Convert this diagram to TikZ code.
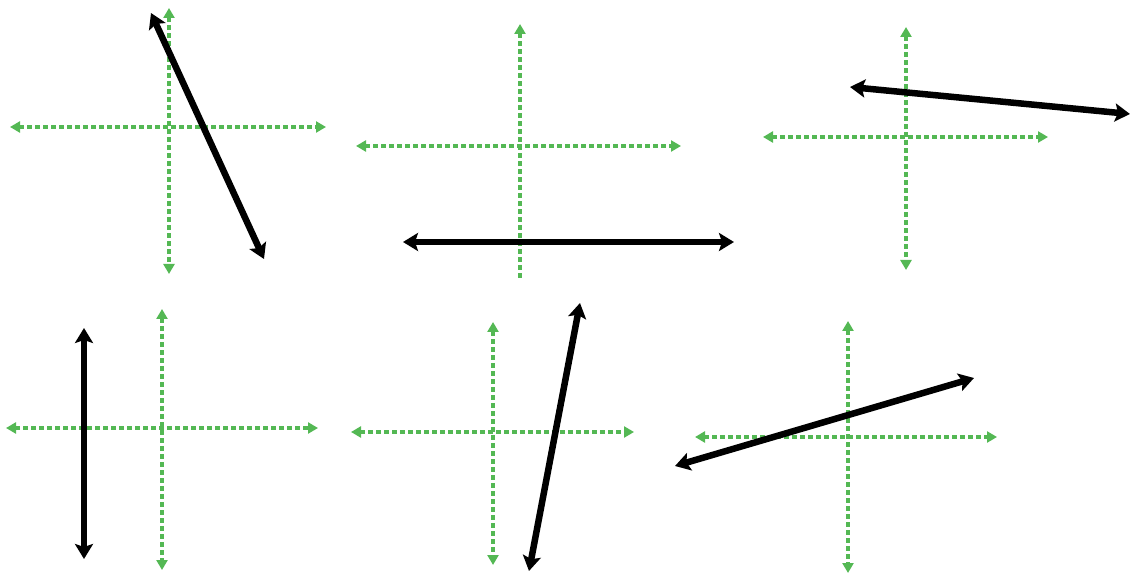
\documentclass[tikz,border=0pt]{standalone}
\usetikzlibrary{arrows.meta}
\definecolor{axisgreen}{RGB}{84,184,84}
\tikzset{
  axisline/.style={draw=axisgreen, line width=4pt, dash pattern=on 4.5pt off 3.5pt,
    {Triangle[length=10pt,width=11pt]}-{Triangle[length=10pt,width=11pt]}},
  axisnotip/.style={draw=axisgreen, line width=4pt, dash pattern=on 4.5pt off 3.5pt,
    {Triangle[length=10pt,width=11pt]}-},
  bline/.style={draw=black, line width=6.5pt,
    {Stealth[length=15pt,width=18pt,inset=3pt]}-{Stealth[length=15pt,width=18pt,inset=3pt]}}
}
\begin{document}
\begin{tikzpicture}[x=1pt,y=-1pt]
\useasboundingbox (0,0) rectangle (1130,577);
% panel 1
\coordinate (h1l) at (10,127); \coordinate (h1r) at (326,127);
\coordinate (v1t) at (169,8); \coordinate (v1b) at (169,274);
\coordinate (b1a) at (151,13); \coordinate (b1b) at (264,259);
\draw[axisline] (h1l) -- (h1r);
\draw[axisline] (v1t) -- (v1b);
\draw[bline] (b1a) -- (b1b);
% panel 2
\coordinate (h2l) at (356,146); \coordinate (h2r) at (681,146);
\coordinate (v2t) at (520,24); \coordinate (v2b) at (520,280);
\coordinate (b2a) at (403,242); \coordinate (b2b) at (734,242);
\draw[axisline] (h2l) -- (h2r);
\draw[axisnotip] (v2t) -- (v2b);
\draw[bline] (b2a) -- (b2b);
% panel 3
\coordinate (h3l) at (763,137); \coordinate (h3r) at (1048,137);
\coordinate (v3t) at (906,27); \coordinate (v3b) at (906,270);
\coordinate (b3a) at (850,87); \coordinate (b3b) at (1130,114);
\draw[axisline] (h3l) -- (h3r);
\draw[axisline] (v3t) -- (v3b);
\draw[bline] (b3a) -- (b3b);
% panel 4
\coordinate (h4l) at (6,428); \coordinate (h4r) at (318,428);
\coordinate (v4t) at (162,309); \coordinate (v4b) at (162,570);
\coordinate (b4a) at (84,328); \coordinate (b4b) at (84,559);
\draw[axisline] (h4l) -- (h4r);
\draw[axisline] (v4t) -- (v4b);
\draw[bline] (b4a) -- (b4b);
% panel 5
\coordinate (h5l) at (351,432); \coordinate (h5r) at (634,432);
\coordinate (v5t) at (493,322); \coordinate (v5b) at (493,565);
\coordinate (b5a) at (580,303); \coordinate (b5b) at (529,571);
\draw[axisline] (h5l) -- (h5r);
\draw[axisline] (v5t) -- (v5b);
\draw[bline] (b5a) -- (b5b);
% panel 6
\coordinate (h6l) at (695,437); \coordinate (h6r) at (997,437);
\coordinate (v6t) at (848,321); \coordinate (v6b) at (848,573);
\coordinate (b6a) at (675,466); \coordinate (b6b) at (974,378);
\draw[axisline] (h6l) -- (h6r);
\draw[axisline] (v6t) -- (v6b);
\draw[bline] (b6a) -- (b6b);
\end{tikzpicture}
\end{document}
